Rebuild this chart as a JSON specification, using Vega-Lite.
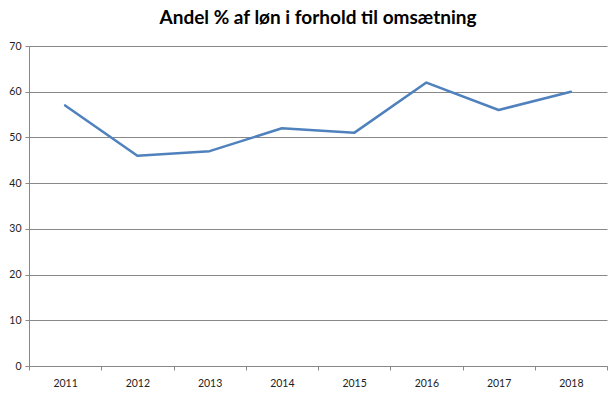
{
  "$schema": "https://vega.github.io/schema/vega-lite/v6.json",
  "width": 578,
  "height": 320,
  "autosize": {"type": "none"},
  "padding": {"left": 29, "top": 46, "right": 9, "bottom": 28},
  "background": "white",
  "title": {
    "text": "Andel % af løn i forhold til omsætning",
    "font": "Lato",
    "fontSize": 19,
    "fontWeight": "bold",
    "color": "#000000",
    "anchor": "middle",
    "offset": 13
  },
  "config": {"view": {"stroke": null}},
  "data": {
    "values": [
      {"year": "2011", "value": 57},
      {"year": "2012", "value": 46},
      {"year": "2013", "value": 47},
      {"year": "2014", "value": 52},
      {"year": "2015", "value": 51},
      {"year": "2016", "value": 62},
      {"year": "2017", "value": 56},
      {"year": "2018", "value": 60}
    ]
  },
  "mark": {"type": "line", "color": "#4F81BD", "strokeWidth": 2.5, "strokeCap": "round", "strokeJoin": "round"},
  "encoding": {
    "x": {
      "field": "year",
      "type": "ordinal",
      "scale": {"type": "band", "paddingInner": 0, "paddingOuter": 0},
      "axis": {
        "title": null,
        "labelAngle": 0,
        "labelFont": "Lato",
        "labelFontSize": 10.5,
        "labelColor": "#222222",
        "labelPadding": 8,
        "tickBand": "extent",
        "tickColor": "#888888",
        "tickSize": 4,
        "domainColor": "#888888",
        "grid": false
      }
    },
    "y": {
      "field": "value",
      "type": "quantitative",
      "scale": {"domain": [0, 70], "nice": false},
      "axis": {
        "title": null,
        "values": [0, 10, 20, 30, 40, 50, 60, 70],
        "labelFont": "Lato",
        "labelFontSize": 10.5,
        "labelColor": "#222222",
        "labelPadding": 4,
        "tickColor": "#888888",
        "tickSize": 4,
        "domainColor": "#888888",
        "gridColor": "#888888",
        "gridOpacity": 1
      }
    }
  }
}
